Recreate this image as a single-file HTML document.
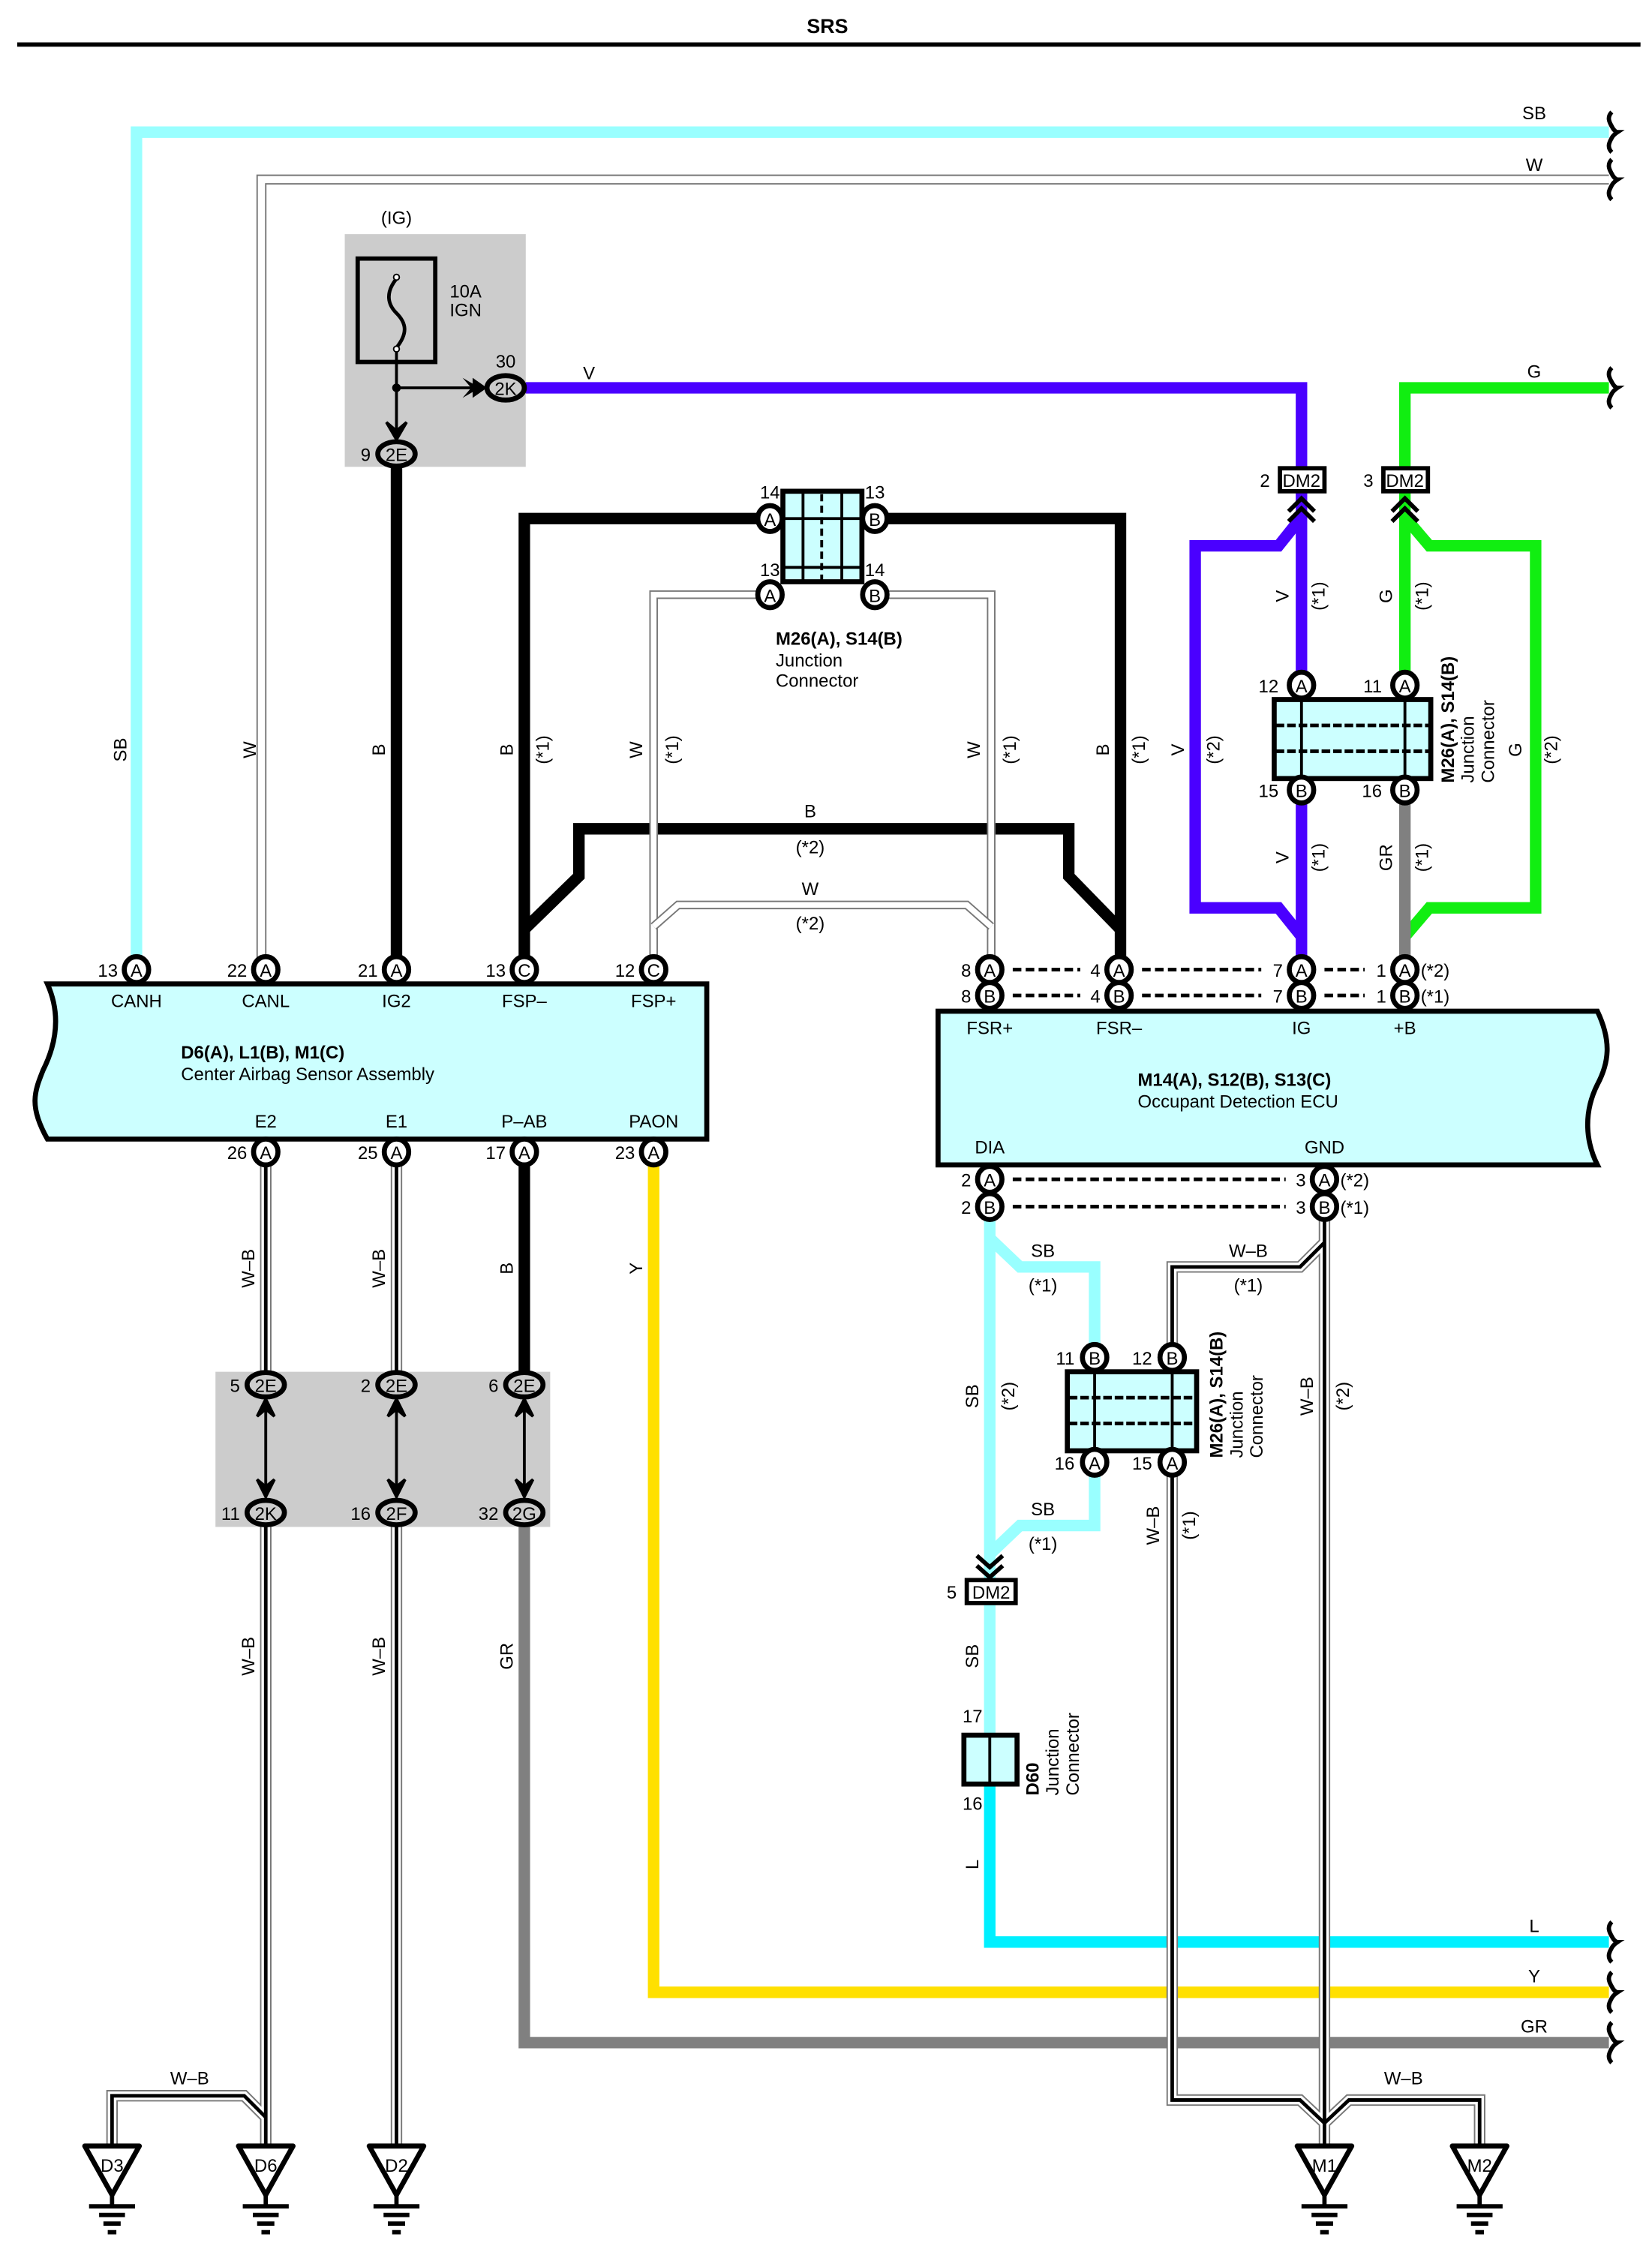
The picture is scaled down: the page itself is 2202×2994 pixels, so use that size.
<!DOCTYPE html>
<html><head><meta charset="utf-8"><style>
html,body{margin:0;padding:0;background:#fff}
svg{display:block}
text{font-family:"Liberation Sans",sans-serif;font-size:12.5px;fill:#000}
.b{font-weight:bold}
.c{text-anchor:middle}
.r{text-anchor:end}
</style></head><body>
<svg width="2202" height="2994" viewBox="0 0 1150 1563.6" preserveAspectRatio="none" xmlns="http://www.w3.org/2000/svg">
<defs>
<g id="cn"><ellipse cx="0" cy="0" rx="8.5" ry="9" fill="#fff" stroke="#000" stroke-width="3.5"/></g>
<g id="cn2"><ellipse cx="0" cy="0" rx="13" ry="8.5" fill="#ccc" stroke="#000" stroke-width="3.5"/></g>
<g id="gnd"><path d="M-19,-12 L19,-12 L0,22 Z" fill="#fff" stroke="#000" stroke-width="3.5" stroke-linejoin="round"/><path d="M0,22 V30 M-16,30 H16 M-9,36 H9 M-6,42 H6 M-3,48 H3" stroke="#000" stroke-width="3" fill="none"/></g>
<g id="brk"><path d="M0,-14 C-4,-10 -1,-6 0,-4 C2,0 4,0 4,0 C4,0 1,2 0,4 C-1,6 -4,10 0,14" stroke="#000" stroke-width="3" fill="none"/></g>
</defs>

<text x="576" y="23" class="b c" style="font-size:14px">SRS</text>
<line x1="12" y1="31" x2="1142" y2="31" stroke="#000" stroke-width="3"/>

<rect x="240" y="163" width="126" height="162" fill="#ccc"/>
<rect x="150" y="955" width="233" height="108" fill="#ccc"/>

<g fill="none" stroke-linejoin="miter">
<path d="M95,675 V92 H1120" stroke="#99ffff" stroke-width="8"/>
<path d="M182,675 V125 H1120" stroke="#777" stroke-width="7"/>
<path d="M182,675 V125 H1120" stroke="#fff" stroke-width="5"/>
<path d="M366,270 H906 V334" stroke="#4a00ff" stroke-width="8"/>
<path d="M906,342 V477 M906,550 V675" stroke="#4a00ff" stroke-width="8"/>
<path d="M906,360 L890,380 H832 V632 H890 L906,652" stroke="#4a00ff" stroke-width="8"/>
<path d="M1120,270 H978 V334" stroke="#11ee11" stroke-width="8"/>
<path d="M978,342 V477" stroke="#11ee11" stroke-width="8"/>
<path d="M978,360 L995,380 H1069 V632 H995 L978,652" stroke="#11ee11" stroke-width="8"/>
<path d="M978,550 V675" stroke="#808080" stroke-width="8"/>
<path d="M276,316 V675" stroke="#000" stroke-width="8"/>
<path d="M536,361 H365 V675" stroke="#000" stroke-width="8"/>
<path d="M609,361 H780 V675" stroke="#000" stroke-width="8"/>
<path d="M365,647 L403,610 V577 H744 V610 L780,647" stroke="#000" stroke-width="8"/>
<path d="M536,414 H455 V675 M609,414 H690 V675" stroke="#777" stroke-width="6"/>
<path d="M536,414 H455 V675 M609,414 H690 V675" stroke="#fff" stroke-width="4"/>
<path d="M455,645 L472,630 H673 L690,645" stroke="#777" stroke-width="6"/>
<path d="M455,645 L472,630 H673 L690,645" stroke="#fff" stroke-width="4"/>
<path d="M365,802 V964" stroke="#000" stroke-width="8"/>
<path d="M365,1053 V1422 H1120" stroke="#808080" stroke-width="8"/>
<path d="M455,802 V1387 H1120" stroke="#ffe000" stroke-width="8"/>
<path d="M689,840 V1100" stroke="#99ffff" stroke-width="8"/>
<path d="M689,862 L710,882 H762 V945 M762,1018 V1062 H710 L689,1082" stroke="#99ffff" stroke-width="8"/>
<path d="M689,1116 V1208" stroke="#99ffff" stroke-width="8"/>
<path d="M689,1242 V1352 H1120" stroke="#00f0ff" stroke-width="8"/>
</g>

<g fill="none">
<g stroke="#777" stroke-width="8">
<path d="M185,802 V964 M185,1053 V1494 M276,802 V964 M276,1053 V1494"/>
<path d="M185,1474 L170,1459 H78 V1494"/>
<path d="M922,840 V1494 M922,865 L905,882 H816 V945 M816,1018 V1462 H905 L922,1478 M922,1478 L939,1462 H1030 V1494"/>
</g>
<g stroke="#fff" stroke-width="6">
<path d="M185,802 V964 M185,1053 V1494 M276,802 V964 M276,1053 V1494"/>
<path d="M185,1474 L170,1459 H78 V1494"/>
<path d="M922,840 V1494 M922,865 L905,882 H816 V945 M816,1018 V1462 H905 L922,1478 M922,1478 L939,1462 H1030 V1494"/>
</g>
<g stroke="#000" stroke-width="2.5">
<path d="M185,802 V964 M185,1053 V1494 M276,802 V964 M276,1053 V1494"/>
<path d="M185,1474 L170,1459 H78 V1494"/>
<path d="M922,840 V1494 M922,865 L905,882 H816 V945 M816,1018 V1462 H905 L922,1478 M922,1478 L939,1462 H1030 V1494"/>
</g>
</g>

<use href="#brk" x="1122" y="92"/><use href="#brk" x="1122" y="125"/>
<use href="#brk" x="1122" y="270"/><use href="#brk" x="1122" y="1352"/>
<use href="#brk" x="1122" y="1387"/><use href="#brk" x="1122" y="1422"/>

<rect x="249" y="180" width="54" height="72" fill="none" stroke="#000" stroke-width="3"/>
<path d="M276,194 C268,204 270,212 276,218 C283,225 284,232 276,242" stroke="#000" stroke-width="2.5" fill="none"/>
<circle cx="276" cy="193" r="2" fill="#fff" stroke="#000"/><circle cx="276" cy="243" r="2" fill="#fff" stroke="#000"/>
<path d="M276,245 V305 M276,270 H336" stroke="#000" stroke-width="2"/>
<circle cx="276" cy="270" r="3" fill="#000"/>
<path d="M322,263 L334,270 L322,277 L328,270 Z M329,263 L339,270 L329,277 Z" fill="#000"/>
<path d="M269,294 L276,306 L283,294 L276,300 Z" fill="#000" stroke="#000" stroke-width="2"/>
<text x="276" y="156" class="c">(IG)</text>
<text x="313" y="207">10A</text><text x="313" y="220">IGN</text>
<use href="#cn2" x="352" y="270"/><text x="352" y="275" class="c">2K</text><text x="352" y="256" class="c">30</text>
<use href="#cn2" x="276" y="316"/><text x="276" y="321" class="c">2E</text><text x="258" y="321" class="r">9</text>
<text x="410" y="264" class="c">V</text>
<text x="1068" y="83" class="c">SB</text><text x="1068" y="119" class="c">W</text><text x="1068" y="263" class="c">G</text>
<text x="1068" y="1345" class="c">L</text><text x="1068" y="1380" class="c">Y</text><text x="1068" y="1415" class="c">GR</text>

<rect x="545" y="342" width="55" height="63" fill="#ccffff" stroke="#000" stroke-width="3.5"/>
<path d="M545,361 H600 M545,395 H600" stroke="#000" stroke-width="2"/>
<path d="M559,342 V405 M586,342 V405" stroke="#000" stroke-width="2"/>
<path d="M572,344 V404" stroke="#000" stroke-width="2" stroke-dasharray="5,3"/>
<use href="#cn" x="536" y="361"/><text x="536" y="366" class="c">A</text><text x="536" y="347" class="c">14</text>
<use href="#cn" x="609" y="361"/><text x="609" y="366" class="c">B</text><text x="609" y="347" class="c">13</text>
<use href="#cn" x="536" y="414"/><text x="536" y="419" class="c">A</text><text x="536" y="401" class="c">13</text>
<use href="#cn" x="609" y="414"/><text x="609" y="419" class="c">B</text><text x="609" y="401" class="c">14</text>
<text x="540" y="449" class="b">M26(A), S14(B)</text><text x="540" y="464">Junction</text><text x="540" y="478">Connector</text>

<rect x="891" y="326" width="31" height="16" fill="#fff" stroke="#000" stroke-width="3"/><text x="906" y="339" class="c">DM2</text><text x="884" y="339" class="r">2</text>
<rect x="963" y="326" width="31" height="16" fill="#fff" stroke="#000" stroke-width="3"/><text x="978" y="339" class="c">DM2</text><text x="956" y="339" class="r">3</text>
<path d="M897,356 L906,347 L915,356 M897,363 L906,354 L915,363" stroke="#000" stroke-width="3" fill="none"/>
<path d="M969,356 L978,347 L987,356 M969,363 L978,354 L987,363" stroke="#000" stroke-width="3" fill="none"/>

<rect x="887" y="487" width="109" height="55" fill="#ccffff" stroke="#000" stroke-width="3.5"/>
<path d="M906,487 V542 M978,487 V542" stroke="#000" stroke-width="2"/>
<path d="M888,505 H995 M888,523 H995" stroke="#000" stroke-width="2.5" stroke-dasharray="6,2"/>
<use href="#cn" x="906" y="477"/><text x="906" y="482" class="c">A</text><text x="890" y="482" class="r">12</text>
<use href="#cn" x="978" y="477"/><text x="978" y="482" class="c">A</text><text x="962" y="482" class="r">11</text>
<use href="#cn" x="906" y="550"/><text x="906" y="555" class="c">B</text><text x="890" y="555" class="r">15</text>
<use href="#cn" x="978" y="550"/><text x="978" y="555" class="c">B</text><text x="962" y="555" class="r">16</text>
<text transform="translate(1012,545) rotate(-90)" class="b">M26(A), S14(B)</text>
<text transform="translate(1026,545) rotate(-90)">Junction</text>
<text transform="translate(1040,545) rotate(-90)">Connector</text>

<g>
<text transform="translate(88,522) rotate(-90)" class="c">SB</text>
<text transform="translate(178,522) rotate(-90)" class="c">W</text>
<text transform="translate(268,522) rotate(-90)" class="c">B</text>
<text transform="translate(357,522) rotate(-90)" class="c">B</text><text transform="translate(382,522) rotate(-90)" class="c">(*1)</text>
<text transform="translate(447,522) rotate(-90)" class="c">W</text><text transform="translate(472,522) rotate(-90)" class="c">(*1)</text>
<text transform="translate(682,522) rotate(-90)" class="c">W</text><text transform="translate(707,522) rotate(-90)" class="c">(*1)</text>
<text transform="translate(772,522) rotate(-90)" class="c">B</text><text transform="translate(797,522) rotate(-90)" class="c">(*1)</text>
<text transform="translate(824,522) rotate(-90)" class="c">V</text><text transform="translate(849,522) rotate(-90)" class="c">(*2)</text>
<text transform="translate(1059,522) rotate(-90)" class="c">G</text><text transform="translate(1084,522) rotate(-90)" class="c">(*2)</text>
<text transform="translate(897,415) rotate(-90)" class="c">V</text><text transform="translate(922,415) rotate(-90)" class="c">(*1)</text>
<text transform="translate(969,415) rotate(-90)" class="c">G</text><text transform="translate(994,415) rotate(-90)" class="c">(*1)</text>
<text transform="translate(897,597) rotate(-90)" class="c">V</text><text transform="translate(922,597) rotate(-90)" class="c">(*1)</text>
<text transform="translate(969,597) rotate(-90)" class="c">GR</text><text transform="translate(994,597) rotate(-90)" class="c">(*1)</text>
<text transform="translate(177,883) rotate(-90)" class="c">W–B</text>
<text transform="translate(268,883) rotate(-90)" class="c">W–B</text>
<text transform="translate(357,883) rotate(-90)" class="c">B</text>
<text transform="translate(447,883) rotate(-90)" class="c">Y</text>
<text transform="translate(177,1153) rotate(-90)" class="c">W–B</text>
<text transform="translate(268,1153) rotate(-90)" class="c">W–B</text>
<text transform="translate(357,1153) rotate(-90)" class="c">GR</text>
<text transform="translate(681,972) rotate(-90)" class="c">SB</text><text transform="translate(706,972) rotate(-90)" class="c">(*2)</text>
<text transform="translate(914,972) rotate(-90)" class="c">W–B</text><text transform="translate(939,972) rotate(-90)" class="c">(*2)</text>
<text transform="translate(807,1062) rotate(-90)" class="c">W–B</text><text transform="translate(832,1062) rotate(-90)" class="c">(*1)</text>
<text transform="translate(681,1153) rotate(-90)" class="c">SB</text>
<text transform="translate(681,1298) rotate(-90)" class="c">L</text>
</g>
<text x="564" y="569" class="c">B</text><text x="564" y="594" class="c">(*2)</text>
<text x="564" y="623" class="c">W</text><text x="564" y="647" class="c">(*2)</text>
<text x="726" y="875" class="c">SB</text><text x="726" y="899" class="c">(*1)</text>
<text x="726" y="1055" class="c">SB</text><text x="726" y="1079" class="c">(*1)</text>
<text x="869" y="875" class="c">W–B</text><text x="869" y="899" class="c">(*1)</text>
<text x="132" y="1451" class="c">W–B</text><text x="977" y="1451" class="c">W–B</text>

<path d="M33,685 H492 V793 H33 C20,770 24,760 30,745 C40,725 42,705 33,685 Z" fill="#ccffff" stroke="#000" stroke-width="3.5"/>
<text x="95" y="701" class="c">CANH</text><text x="185" y="701" class="c">CANL</text><text x="276" y="701" class="c">IG2</text><text x="365" y="701" class="c">FSP–</text><text x="455" y="701" class="c">FSP+</text>
<text x="126" y="737" class="b">D6(A), L1(B), M1(C)</text><text x="126" y="752">Center Airbag Sensor Assembly</text>
<text x="185" y="785" class="c">E2</text><text x="276" y="785" class="c">E1</text><text x="365" y="785" class="c">P–AB</text><text x="455" y="785" class="c">PAON</text>
<use href="#cn" x="95" y="675"/><text x="95" y="680" class="c">A</text><text x="82" y="680" class="r">13</text>
<use href="#cn" x="185" y="675"/><text x="185" y="680" class="c">A</text><text x="172" y="680" class="r">22</text>
<use href="#cn" x="276" y="675"/><text x="276" y="680" class="c">A</text><text x="263" y="680" class="r">21</text>
<use href="#cn" x="365" y="675"/><text x="365" y="680" class="c">C</text><text x="352" y="680" class="r">13</text>
<use href="#cn" x="455" y="675"/><text x="455" y="680" class="c">C</text><text x="442" y="680" class="r">12</text>
<use href="#cn" x="185" y="802"/><text x="185" y="807" class="c">A</text><text x="172" y="807" class="r">26</text>
<use href="#cn" x="276" y="802"/><text x="276" y="807" class="c">A</text><text x="263" y="807" class="r">25</text>
<use href="#cn" x="365" y="802"/><text x="365" y="807" class="c">A</text><text x="352" y="807" class="r">17</text>
<use href="#cn" x="455" y="802"/><text x="455" y="807" class="c">A</text><text x="442" y="807" class="r">23</text>

<g stroke="#000" stroke-width="2" fill="#000">
<path d="M185,976 V1042 M276,976 V1042 M365,976 V1042" fill="none"/>
<path d="M179,986 L185,974 L191,986 L185,981 Z M179,1030 L185,1042 L191,1030 L185,1035 Z"/>
<path d="M270,986 L276,974 L282,986 L276,981 Z M270,1030 L276,1042 L282,1030 L276,1035 Z"/>
<path d="M359,986 L365,974 L371,986 L365,981 Z M359,1030 L365,1042 L371,1030 L365,1035 Z"/>
</g>
<use href="#cn2" x="185" y="964"/><text x="185" y="969" class="c">2E</text><text x="167" y="969" class="r">5</text>
<use href="#cn2" x="276" y="964"/><text x="276" y="969" class="c">2E</text><text x="258" y="969" class="r">2</text>
<use href="#cn2" x="365" y="964"/><text x="365" y="969" class="c">2E</text><text x="347" y="969" class="r">6</text>
<use href="#cn2" x="185" y="1053"/><text x="185" y="1058" class="c">2K</text><text x="167" y="1058" class="r">11</text>
<use href="#cn2" x="276" y="1053"/><text x="276" y="1058" class="c">2F</text><text x="258" y="1058" class="r">16</text>
<use href="#cn2" x="365" y="1053"/><text x="365" y="1058" class="c">2G</text><text x="347" y="1058" class="r">32</text>

<path d="M653,704 H1112 C1122,725 1120,740 1112,755 C1102,775 1104,795 1112,811 H653 Z" fill="#ccffff" stroke="#000" stroke-width="3.5"/>
<text x="689" y="720" class="c">FSR+</text><text x="779" y="720" class="c">FSR–</text><text x="906" y="720" class="c">IG</text><text x="978" y="720" class="c">+B</text>
<text x="792" y="756" class="b">M14(A), S12(B), S13(C)</text><text x="792" y="771">Occupant Detection ECU</text>
<text x="689" y="803" class="c">DIA</text><text x="922" y="803" class="c">GND</text>
<g stroke="#000" stroke-width="2.5" stroke-dasharray="6,3">
<path d="M705,675 H752 M795,675 H878 M922,675 H950 M705,693 H752 M795,693 H878 M922,693 H950"/>
<path d="M705,821 H895 M705,840 H895"/>
</g>
<g>
<use href="#cn" x="689" y="675"/><text x="689" y="680" class="c">A</text><text x="676" y="680" class="r">8</text>
<use href="#cn" x="689" y="693"/><text x="689" y="698" class="c">B</text><text x="676" y="698" class="r">8</text>
<use href="#cn" x="779" y="675"/><text x="779" y="680" class="c">A</text><text x="766" y="680" class="r">4</text>
<use href="#cn" x="779" y="693"/><text x="779" y="698" class="c">B</text><text x="766" y="698" class="r">4</text>
<use href="#cn" x="906" y="675"/><text x="906" y="680" class="c">A</text><text x="893" y="680" class="r">7</text>
<use href="#cn" x="906" y="693"/><text x="906" y="698" class="c">B</text><text x="893" y="698" class="r">7</text>
<use href="#cn" x="978" y="675"/><text x="978" y="680" class="c">A</text><text x="965" y="680" class="r">1</text><text x="989" y="680">(*2)</text>
<use href="#cn" x="978" y="693"/><text x="978" y="698" class="c">B</text><text x="965" y="698" class="r">1</text><text x="989" y="698">(*1)</text>
<use href="#cn" x="689" y="821"/><text x="689" y="826" class="c">A</text><text x="676" y="826" class="r">2</text>
<use href="#cn" x="689" y="840"/><text x="689" y="845" class="c">B</text><text x="676" y="845" class="r">2</text>
<use href="#cn" x="922" y="821"/><text x="922" y="826" class="c">A</text><text x="909" y="826" class="r">3</text><text x="933" y="826">(*2)</text>
<use href="#cn" x="922" y="840"/><text x="922" y="845" class="c">B</text><text x="909" y="845" class="r">3</text><text x="933" y="845">(*1)</text>
</g>

<rect x="743" y="955" width="90" height="55" fill="#ccffff" stroke="#000" stroke-width="3.5"/>
<path d="M762,955 V1010 M816,955 V1010" stroke="#000" stroke-width="2"/>
<path d="M744,973 H832 M744,991 H832" stroke="#000" stroke-width="2.5" stroke-dasharray="6,2"/>
<use href="#cn" x="762" y="945"/><text x="762" y="950" class="c">B</text><text x="748" y="950" class="r">11</text>
<use href="#cn" x="816" y="945"/><text x="816" y="950" class="c">B</text><text x="802" y="950" class="r">12</text>
<use href="#cn" x="762" y="1018"/><text x="762" y="1023" class="c">A</text><text x="748" y="1023" class="r">16</text>
<use href="#cn" x="816" y="1018"/><text x="816" y="1023" class="c">A</text><text x="802" y="1023" class="r">15</text>
<text transform="translate(851,1015) rotate(-90)" class="b">M26(A), S14(B)</text>
<text transform="translate(865,1015) rotate(-90)">Junction</text>
<text transform="translate(879,1015) rotate(-90)">Connector</text>

<path d="M680,1083 L689,1091 L698,1083 M680,1090 L689,1098 L698,1090" stroke="#000" stroke-width="3" fill="none"/>
<rect x="673" y="1100" width="34" height="16" fill="#fff" stroke="#000" stroke-width="3"/><text x="690" y="1113" class="c">DM2</text><text x="666" y="1113" class="r">5</text>
<rect x="671" y="1208" width="37" height="34" fill="#ccffff" stroke="#000" stroke-width="3.5"/>
<path d="M689,1208 V1242" stroke="#000" stroke-width="2"/>
<text x="677" y="1199" class="c">17</text><text x="677" y="1260" class="c">16</text>
<text transform="translate(723,1250) rotate(-90)" class="b">D60</text>
<text transform="translate(737,1250) rotate(-90)">Junction</text>
<text transform="translate(751,1250) rotate(-90)">Connector</text>

<use href="#gnd" x="78" y="1506"/><text x="78" y="1512" class="c">D3</text>
<use href="#gnd" x="185" y="1506"/><text x="185" y="1512" class="c">D6</text>
<use href="#gnd" x="276" y="1506"/><text x="276" y="1512" class="c">D2</text>
<use href="#gnd" x="922" y="1506"/><text x="922" y="1512" class="c">M1</text>
<use href="#gnd" x="1030" y="1506"/><text x="1030" y="1512" class="c">M2</text>
</svg>
</body></html>
